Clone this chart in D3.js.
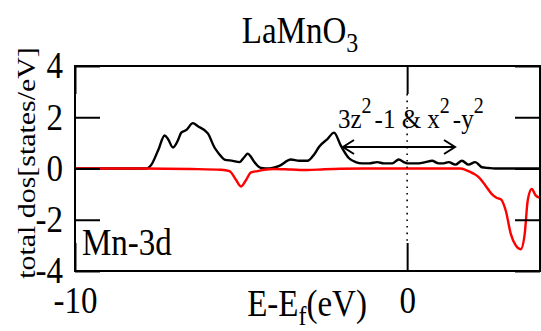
<!DOCTYPE html>
<html>
<head>
<meta charset="utf-8">
<script src="https://cdn.jsdelivr.net/npm/d3@7"></script>
<style>
  body { margin: 0; background: #fff; }
  svg text { font-family: "Liberation Serif", "Times New Roman", serif; fill: #000; }
</style>
</head>
<body>
<div id="chart"></div>
<script>
// Mn-3d DOS of LaMnO3, spin up (black) / spin down (red)
const upE   = [-10, -7.85, -7.7, -7.5, -7.3, -7.2, -7.05, -6.9, -6.8, -6.65, -6.45, -6.3, -6.0, -5.8, -5.65, -5.5, -5.25, -5.05, -4.9, -4.8, -4.7, -4.6, -4.4, -4.15, -3.85, -3.5, -3.25, -3.0, -2.8, -2.65, -2.4, -2.2, -2.0, -1.75, -1.55, -1.35, -1.15, -0.9, -0.7, -0.45, -0.25, -0.1, 0, 0.35, 0.55, 0.75, 0.95, 1.1, 1.25, 1.45, 1.65, 1.85, 2.05, 2.25, 2.45, 2.65, 4];
const upDos = [0, 0, 0.15, 0.7, 1.29, 1.15, 0.82, 1.1, 1.4, 1.5, 1.77, 1.65, 1.37, 0.82, 0.55, 0.35, 0.3, 0.25, 0.45, 0.58, 0.45, 0.25, 0.02, 0, 0.1, 0.35, 0.3, 0.3, 0.55, 0.85, 1.15, 1.4, 0.9, 0.4, 0.25, 0.2, 0.2, 0.25, 0.2, 0.2, 0.35, 0.25, 0.2, 0.2, 0.25, 0.3, 0.2, 0.2, 0.25, 0.15, 0.3, 0.15, 0.25, 0.05, 0.02, 0, 0];

const dnE   = [-10, -8, -6.5, -5.6, -5.35, -5.15, -5.0, -4.85, -4.7, -4.5, -4.3, -4.0, -3.5, -3.0, -2.5, -2.0, -1.0, 0, 1.0, 1.6, 1.75, 2.0, 2.16, 2.35, 2.55, 2.7, 2.82, 2.97, 3.12, 3.27, 3.42, 3.54, 3.63, 3.75, 3.87, 4.0];
const dnDos = [0, 0, -0.02, -0.05, -0.1, -0.45, -0.7, -0.45, -0.15, -0.1, -0.05, -0.02, -0.04, -0.06, -0.03, -0.01, 0, 0, 0, 0, -0.05, -0.2, -0.35, -0.65, -1.0, -1.15, -1.2, -1.65, -2.55, -3.0, -3.15, -2.55, -1.25, -0.8, -1.05, -1.15];

const xTicks = [-10, 0];
const yTicks = [-4, -2, 0, 2, 4];

const W = 541, H = 331;
const mLeft = 75, mRight = 540, mTop = 66, mBottom = 271;
const stretch = 1.13; // text in the source is a bit taller than wide

const svg = d3.select("#chart").append("svg")
  .attr("width", W).attr("height", H)
  .attr("viewBox", `0 0 ${W} ${H}`);

const x = d3.scaleLinear().domain([-10, 4]).range([mLeft, mRight]);
const y = d3.scaleLinear().domain([-4, 4]).range([mBottom, mTop]);

const line = d3.line()
  .x(d => x(d[0]))
  .y(d => y(d[1]))
  .curve(d3.curveMonotoneX);

const plot = svg.append("g");
plot.append("path")
  .datum(upE.map((e, i) => [e, upDos[i]]))
  .attr("d", line)
  .attr("fill", "none").attr("stroke", "#000").attr("stroke-width", 2.4);
plot.append("path")
  .datum(dnE.map((e, i) => [e, dnDos[i]]))
  .attr("d", line)
  .attr("fill", "none").attr("stroke", "#ff0000").attr("stroke-width", 2.4);

// dotted Fermi level
svg.append("line")
  .attr("x1", x(0)).attr("x2", x(0))
  .attr("y1", mTop + 28).attr("y2", mBottom - 28)
  .attr("stroke", "#000").attr("stroke-width", 1.6)
  .attr("stroke-dasharray", "1.6,5");

// plain hyphen for negatives, like the source
const fmt = d => String(d);

// axes (ticks point inward, mirrored on all sides)
function styleAxis(g, withText) {
  g.select(".domain").remove();
  g.selectAll(".tick line").attr("stroke", "#000").attr("stroke-width", 2);
  if (withText) {
    g.selectAll(".tick text")
      .attr("font-size", 33)
      .attr("font-family", "Liberation Serif")
      .attr("transform", `scale(1,${stretch})`);
  } else {
    g.selectAll(".tick text").remove();
  }
}

svg.append("g")
  .attr("transform", `translate(${mLeft},0)`)
  .call(d3.axisLeft(y).tickValues(yTicks).tickSize(-25).tickPadding(12).tickFormat(fmt))
  .call(g => styleAxis(g, true));
svg.append("g")
  .attr("transform", `translate(${mRight},0)`)
  .call(d3.axisRight(y).tickValues(yTicks).tickSize(-25))
  .call(g => styleAxis(g, false));
svg.append("g")
  .attr("transform", `translate(0,${mBottom})`)
  .call(d3.axisBottom(x).tickValues(xTicks).tickSize(-28).tickPadding(14).tickFormat(fmt))
  .call(g => styleAxis(g, true));
svg.append("g")
  .attr("transform", `translate(0,${mTop})`)
  .call(d3.axisTop(x).tickValues(xTicks).tickSize(-28))
  .call(g => styleAxis(g, false));

// frame
svg.append("rect")
  .attr("x", mLeft).attr("y", mTop)
  .attr("width", mRight - mLeft).attr("height", mBottom - mTop)
  .attr("fill", "none").attr("stroke", "#000").attr("stroke-width", 2);

// title
const title = svg.append("text")
  .attr("transform", `translate(300,43) scale(1,${stretch})`)
  .attr("text-anchor", "middle")
  .attr("font-size", 33);
title.append("tspan").text("LaMnO");
title.append("tspan").attr("font-size", 24).attr("dy", 8).text("3");

// axis labels
const xl = svg.append("text")
  .attr("transform", `translate(307,316) scale(1,${stretch})`)
  .attr("text-anchor", "middle")
  .attr("font-size", 33);
xl.append("tspan").text("E-E");
xl.append("tspan").attr("font-size", 24).attr("dy", 8).text("f");
xl.append("tspan").attr("dy", -8).text("(eV)");

svg.append("text")
  .attr("transform", `translate(35,163) rotate(-90) scale(1.15,1)`)
  .attr("text-anchor", "middle")
  .attr("font-size", 26)
  .text("total dos[states/eV]");

// panel label
svg.append("text")
  .attr("transform", `translate(82,255) scale(1,${stretch})`)
  .attr("font-size", 33)
  .text("Mn-3d");

// orbital annotation with double arrow
const ann = svg.append("text")
  .attr("transform", `translate(338,128) scale(1,${stretch})`)
  .attr("font-size", 25);
ann.append("tspan").text("3z");
ann.append("tspan").attr("font-size", 20).attr("dy", -13).text("2");
ann.append("tspan").attr("dy", 13).attr("dx", 3).text("-1 & x");
ann.append("tspan").attr("font-size", 20).attr("dy", -13).text("2");
ann.append("tspan").attr("dy", 13).attr("dx", 3).text("-y");
ann.append("tspan").attr("font-size", 20).attr("dy", -13).text("2");

const ay = 147, ax1 = 343, ax2 = 455;
const arrow = svg.append("g").attr("stroke", "#000").attr("stroke-width", 2).attr("fill", "none");
arrow.append("line").attr("x1", ax1).attr("x2", ax2).attr("y1", ay).attr("y2", ay);
arrow.append("path").attr("d", `M${ax1 + 11},${ay - 7}L${ax1},${ay}L${ax1 + 11},${ay + 7}`);
arrow.append("path").attr("d", `M${ax2 - 11},${ay - 7}L${ax2},${ay}L${ax2 - 11},${ay + 7}`);
</script>
</body>
</html>
